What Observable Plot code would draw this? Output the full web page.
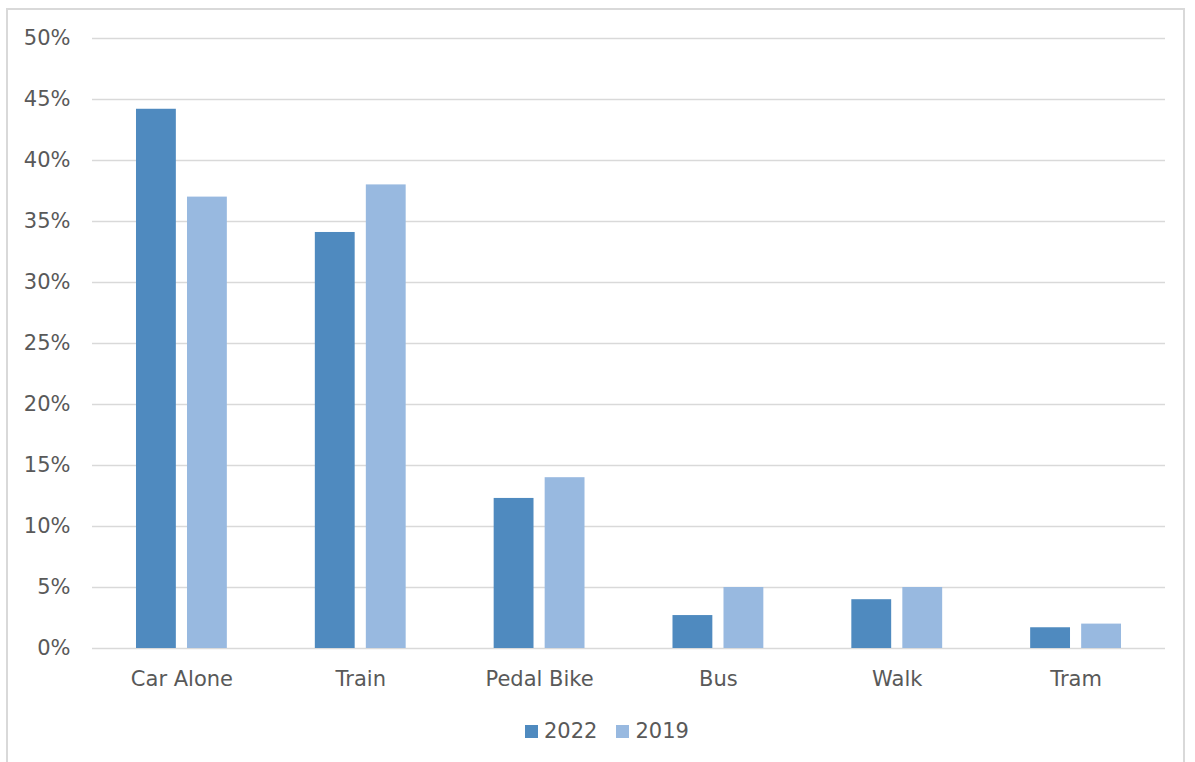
<!DOCTYPE html>
<html>
<head>
<meta charset="utf-8">
<script src="https://cdn.jsdelivr.net/npm/d3@7"></script>
<script src="https://cdn.jsdelivr.net/npm/@observablehq/plot@0.6"></script>
<style>
  html, body { margin: 0; padding: 0; background: #fff; overflow: hidden; }
  #frame { position: absolute; left: 6px; top: 8px; width: 1179px; height: 800px; border: 2px solid #d9d9d9; box-sizing: border-box; }
  #chart { position: absolute; left: 0; top: 0; }
  #legend { position: absolute; left: 525px; top: 719px; display: flex; align-items: center; font-family: "DejaVu Sans", sans-serif; font-size: 21px; color: #595959; }
  .sw { width: 13px; height: 13px; display: inline-block; margin-right: 6px; }
  .item { display: flex; align-items: center; margin-right: 19px; }
</style>
</head>
<body>
<div id="frame"></div>
<div id="chart"></div>
<div id="legend"></div>
<script>
const categories = ["Car Alone", "Train", "Pedal Bike", "Bus", "Walk", "Tram"];
const series = ["2022", "2019"];
const values2022 = [0.442, 0.341, 0.123, 0.027, 0.040, 0.017];
const values2019 = [0.370, 0.380, 0.140, 0.050, 0.050, 0.020];
const colors = {"2022": "#4f8abf", "2019": "#98b9e0"};
const yTicks = [0, 0.05, 0.10, 0.15, 0.20, 0.25, 0.30, 0.35, 0.40, 0.45, 0.50];

const d2022 = categories.map((c, i) => ({category: c, year: "2022", value: values2022[i]}));
const d2019 = categories.map((c, i) => ({category: c, year: "2019", value: values2019[i]}));

const plot = Plot.plot({
  width: 1195,
  height: 700,
  marginLeft: 92,
  marginRight: 30,
  marginTop: 38,
  marginBottom: 52,
  style: {fontFamily: "DejaVu Sans, sans-serif", fontSize: "21px", color: "#595959", background: "transparent"},
  x: {domain: categories, paddingInner: 0.492, paddingOuter: 0.246, round: false, label: null},
  y: {domain: [0, 0.5], label: null},
  marks: [
    Plot.gridY(yTicks, {stroke: "#d9d9d9", strokeOpacity: 1, strokeWidth: 1.5}),
    Plot.barY(d2022, {x: "category", y: "value", fill: colors["2022"], insetRight: 51}),
    Plot.barY(d2019, {x: "category", y: "value", fill: colors["2019"], insetLeft: 51}),
    Plot.axisY(yTicks, {tickSize: 0, tickPadding: 22, tickFormat: d3.format(".0%"), label: null}),
    Plot.axisX({tickSize: 0, tickPadding: 23, label: null})
  ]
});
document.getElementById("chart").appendChild(plot);

const legend = d3.select("#legend");
series.forEach(s => {
  const item = legend.append("div").attr("class", "item");
  item.append("span").attr("class", "sw").style("background", colors[s]);
  item.append("span").text(s);
});
</script>
</body>
</html>
